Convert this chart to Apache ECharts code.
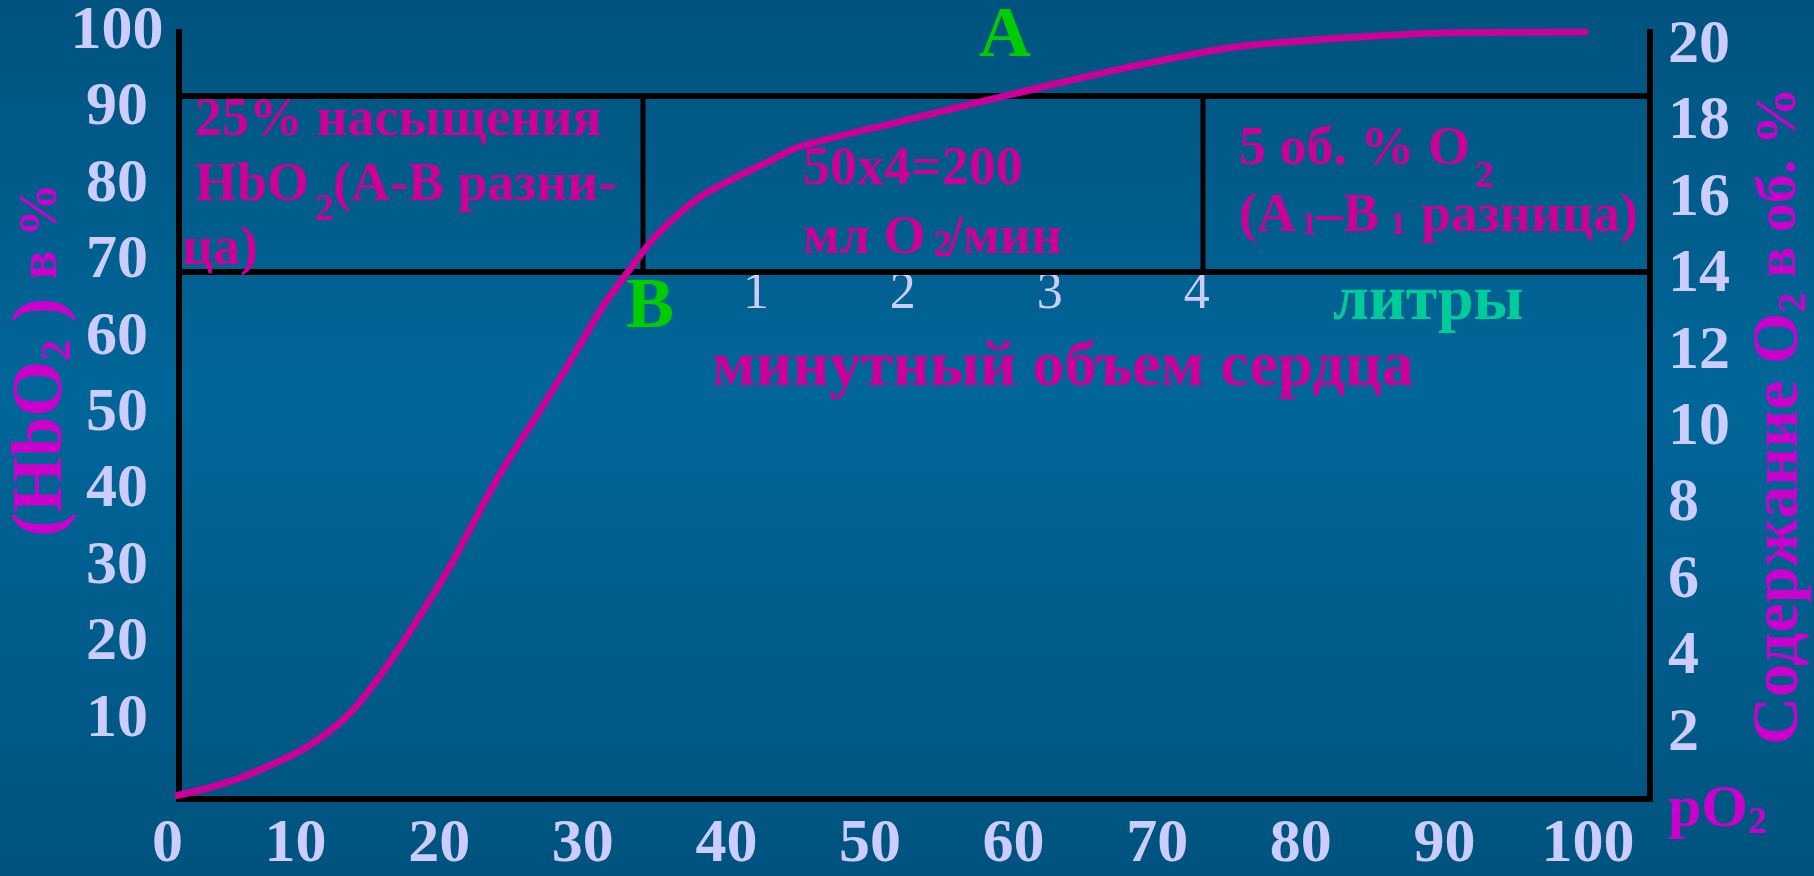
<!DOCTYPE html>
<html><head><meta charset="utf-8">
<script src="https://cdn.jsdelivr.net/npm/echarts@6/dist/echarts.min.js"></script>
<style>html,body{margin:0;padding:0;background:#005a88;}#c{width:1814px;height:876px;}</style>
</head><body><div id="c"></div>
<script>
// pO2 (mm Hg) and HbO2 saturation (%)
const pO2  = [1.6, 3.6, 5.9, 8.2, 10.5, 12.9, 14.3, 16.4, 18.7, 21.0, 23.3, 24.6, 26.8, 29.1, 31.4, 33.3, 34.9, 36.8, 38.4, 40.7, 43.0, 45.1, 52.6, 60.2, 67.8, 75.3, 82.9, 90.4, 100];
const hbo2 = [0, 0.9, 2.2, 4.0, 6.1, 9.3, 11.9, 17.1, 23.7, 30.9, 39.0, 43.3, 49.8, 56.8, 64.1, 69.0, 72.9, 76.4, 78.7, 81.0, 83.1, 85.0, 88.5, 92.0, 95.3, 98.0, 99.2, 99.9, 100];
const xTickValues = [0, 10, 20, 30, 40, 50, 60, 70, 80, 90, 100];
const leftTickValues = [10, 20, 30, 40, 50, 60, 70, 80, 90, 100];
const rightTickValues = [2, 4, 6, 8, 10, 12, 14, 16, 18, 20];
const litersTickValues = [1, 2, 3, 4];

const F = '"Liberation Serif", "Times New Roman", serif';
const LAB = '#ccccff', MAG = '#cc0099', TTL = '#cc00cc', GRN = '#00cc00';

function txt(text, x, y, size, color, align, weight) {
  return { type: 'text', x: x, y: y, z: 20, silent: true,
    style: { text: text, fill: color, fontSize: size, fontWeight: weight || 'bold', fontFamily: F,
      align: align || 'left', verticalAlign: 'middle', textAlign: align || 'left', textVerticalAlign: 'middle' } };
}
function ln(x1, y1, x2, y2, w) {
  return { type: 'line', z: 1, silent: true, shape: { x1: x1, y1: y1, x2: x2, y2: y2 },
    style: { stroke: '#000', lineWidth: w || 6 } };
}
function rich(text, x, y, rot, align, styles) {
  return { type: 'text', x: x, y: y, rotation: rot, z: 20, silent: true,
    style: { text: text, align: align, verticalAlign: 'middle', textAlign: align, textVerticalAlign: 'middle', rich: styles } };
}

const chart = echarts.init(document.getElementById('c'));
const option = {
  animation: false,
  backgroundColor: { type: 'linear', x: 0, y: 0, x2: 0, y2: 1,
    colorStops: [{ offset: 0, color: '#00537e' }, { offset: 0.45, color: '#006699' }, { offset: 1, color: '#00537e' }] },
  grid: { left: 152, top: 32, width: 1436, height: 767, containLabel: false },
  xAxis: [
    { type: 'value', min: 0, max: 100, position: 'bottom',
      axisLine: { show: false }, axisTick: { show: false }, splitLine: { show: false },
      axisLabel: { customValues: xTickValues, margin: 18, alignMinLabel: 'left', color: LAB,
        fontSize: 62, fontWeight: 'bold', fontFamily: F } },
    { type: 'value', min: -3.111, max: 6.664, position: 'bottom', offset: -536,
      axisLine: { show: false }, axisTick: { show: false }, splitLine: { show: false },
      axisLabel: { customValues: litersTickValues, margin: 8, color: LAB,
        fontSize: 52, fontWeight: 'normal', fontFamily: F } }
  ],
  yAxis: [
    { type: 'value', min: 0, max: 100, position: 'left', offset: -27,
      axisLine: { show: false }, axisTick: { show: false }, splitLine: { show: false },
      axisLabel: { customValues: leftTickValues, margin: 62, align: 'center', color: LAB,
        fontSize: 62, fontWeight: 'bold', fontFamily: F } },
    { type: 'value', min: 0.365, max: 20.365, position: 'right', offset: 62,
      axisLine: { show: false }, axisTick: { show: false }, splitLine: { show: false },
      axisLabel: { customValues: rightTickValues, margin: 18, align: 'left', color: LAB,
        fontSize: 62, fontWeight: 'bold', fontFamily: F } }
  ],
  series: [{
    type: 'line', xAxisIndex: 0, yAxisIndex: 0, z: 10,
    data: pO2.map((v, i) => [v, hbo2[i]]),
    smooth: 0.3, showSymbol: false, symbol: 'none',
    lineStyle: { color: MAG, width: 7 }
  }],
  graphic: { elements: [
    ln(179, 29, 179, 802), ln(1650, 29, 1650, 802), ln(176, 799, 1653, 799),
    ln(179, 96, 1650, 96), ln(179, 272, 1650, 272),
    ln(643, 96, 643, 272, 5), ln(1203, 96, 1203, 272, 5),

    txt('25% насыщения', 195, 121, 54, MAG),
    txt('HbO', 195, 186, 54, MAG), txt('2', 315, 210, 38, MAG), txt('(А-В разни-', 333, 186, 54, MAG),
    txt('ца)', 182, 250, 54, MAG),

    txt('50x4=200', 803, 170, 54, MAG),
    txt('мл O', 803, 239, 54, MAG), txt('2', 933, 246, 38, MAG), txt('/мин', 948, 239, 54, MAG),

    txt('5 об. % O', 1239, 150, 54, MAG), txt('2', 1475, 177, 38, MAG),
    txt('(А', 1239, 217, 54, MAG), txt('1', 1301, 226, 32, MAG), txt('–В', 1316, 217, 54, MAG),
    txt('1', 1390, 226, 32, MAG), txt('разница)', 1421, 217, 54, MAG),

    txt('A', 1005, 37, 72, GRN, 'center'),
    txt('B', 650, 308, 72, GRN, 'center'),
    txt('литры', 1333, 302, 64, '#00cc99'),
    txt('минутный объем сердца', 712, 368, 64, MAG),

    rich('{m|(HbO}{s|2}{m| ) }{n|в %}', 42, 360, Math.PI / 2, 'center', {
      m: { fontSize: 72, fontWeight: 'bold', fontFamily: F, fill: TTL, color: TTL, lineHeight: 76 },
      s: { fontSize: 42, fontWeight: 'bold', fontFamily: F, fill: TTL, color: TTL, lineHeight: 28, verticalAlign: 'bottom' },
      n: { fontSize: 54, fontWeight: 'bold', fontFamily: F, fill: TTL, color: TTL, lineHeight: 76 }
    }),
    rich('{m|Содержание O}{s|2}{n| в об. %}', 1780, 416, Math.PI / 2, 'center', {
      m: { fontSize: 66, fontWeight: 'bold', fontFamily: F, fill: TTL, color: TTL, lineHeight: 70 },
      s: { fontSize: 40, fontWeight: 'bold', fontFamily: F, fill: TTL, color: TTL, lineHeight: 26, verticalAlign: 'bottom' },
      n: { fontSize: 58, fontWeight: 'bold', fontFamily: F, fill: TTL, color: TTL, lineHeight: 70 }
    }),
    rich('{m|pO}{s|2}', 1668, 810, 0, 'left', {
      m: { fontSize: 60, fontWeight: 'bold', fontFamily: F, fill: TTL, color: TTL, lineHeight: 64 },
      s: { fontSize: 38, fontWeight: 'bold', fontFamily: F, fill: TTL, color: TTL, lineHeight: 24, verticalAlign: 'bottom' }
    })
  ] }
};
chart.setOption(option);
</script>
</body></html>
